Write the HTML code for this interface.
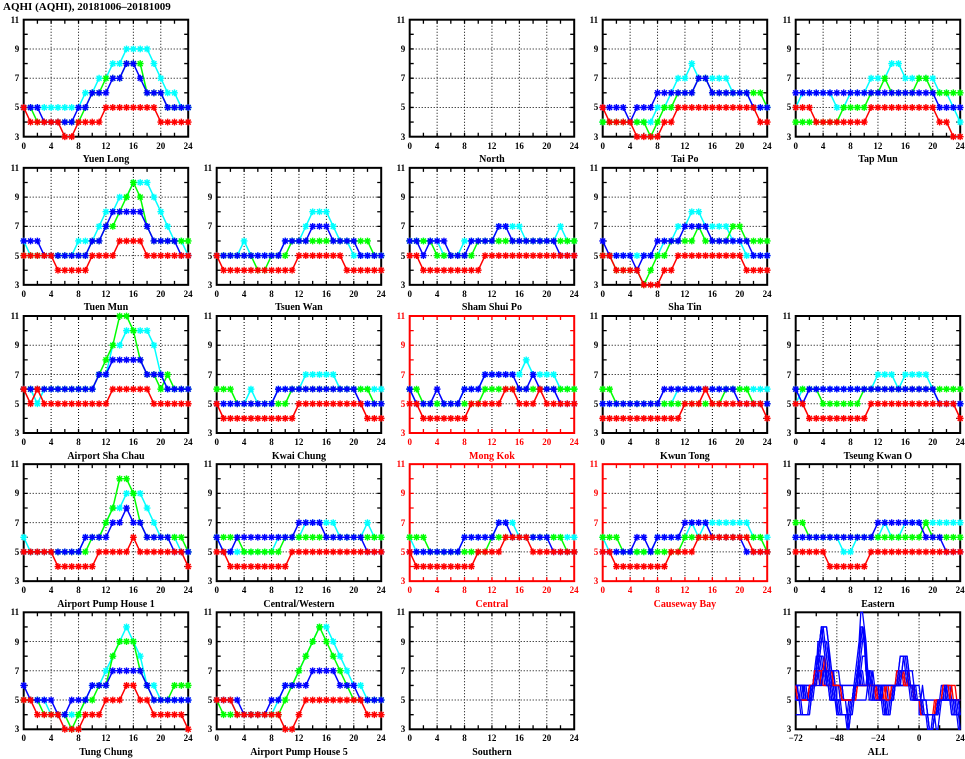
<!DOCTYPE html>
<html><head><meta charset="utf-8">
<style>
html,body{margin:0;padding:0;background:#fff}
body{width:965px;height:755px;position:relative;overflow:hidden;font-family:"Liberation Serif",serif}
#s{position:absolute;left:0;top:0}
.title{position:absolute;left:3px;top:0px;font:bold 11px/14px "Liberation Serif",serif;color:#000;white-space:nowrap}
.p{position:absolute;width:164.5px;height:117px}
.xl{position:absolute;left:-8px;right:-8px;top:121px;display:flex;justify-content:space-between;font:bold 9px/10px "Liberation Serif",serif}
.xl i{font-style:normal;width:16px;text-align:center;display:block}
.xa{left:-11px;right:-11px}
.xa i{width:22px}
.yl{position:absolute;left:-26px;width:21.5px;top:-6px;height:129px;display:flex;flex-direction:column;justify-content:space-between;font:bold 9px/12px "Liberation Serif",serif}
.yl i{font-style:normal;height:12px;text-align:right;display:block}
.nm{position:absolute;left:-30px;right:-30px;top:134.5px;text-align:center;font:bold 10px/12px "Liberation Serif",serif;white-space:nowrap}
.r{color:#f00}
</style></head><body>
<svg id="s" width="965" height="755" xmlns="http://www.w3.org/2000/svg"></svg>
<div class="title">AQHI (AQHI), 20181006–20181009</div>

<div class="p" style="left:23.7px;top:19.7px"><div class="xl"><i>0</i><i>4</i><i>8</i><i>12</i><i>16</i><i>20</i><i>24</i></div><div class="yl"><i>11</i><i>9</i><i>7</i><i>5</i><i>3</i></div><div class="nm">Yuen Long</div></div>
<div class="p" style="left:409.7px;top:19.7px"><div class="xl"><i>0</i><i>4</i><i>8</i><i>12</i><i>16</i><i>20</i><i>24</i></div><div class="yl"><i>11</i><i>9</i><i>7</i><i>5</i><i>3</i></div><div class="nm">North</div></div>
<div class="p" style="left:602.7px;top:19.7px"><div class="xl"><i>0</i><i>4</i><i>8</i><i>12</i><i>16</i><i>20</i><i>24</i></div><div class="yl"><i>11</i><i>9</i><i>7</i><i>5</i><i>3</i></div><div class="nm">Tai Po</div></div>
<div class="p" style="left:795.7px;top:19.7px"><div class="xl"><i>0</i><i>4</i><i>8</i><i>12</i><i>16</i><i>20</i><i>24</i></div><div class="yl"><i>11</i><i>9</i><i>7</i><i>5</i><i>3</i></div><div class="nm">Tap Mun</div></div>

<div class="p" style="left:23.7px;top:167.85px"><div class="xl"><i>0</i><i>4</i><i>8</i><i>12</i><i>16</i><i>20</i><i>24</i></div><div class="yl"><i>11</i><i>9</i><i>7</i><i>5</i><i>3</i></div><div class="nm">Tuen Mun</div></div>
<div class="p" style="left:216.7px;top:167.85px"><div class="xl"><i>0</i><i>4</i><i>8</i><i>12</i><i>16</i><i>20</i><i>24</i></div><div class="yl"><i>11</i><i>9</i><i>7</i><i>5</i><i>3</i></div><div class="nm">Tsuen Wan</div></div>
<div class="p" style="left:409.7px;top:167.85px"><div class="xl"><i>0</i><i>4</i><i>8</i><i>12</i><i>16</i><i>20</i><i>24</i></div><div class="yl"><i>11</i><i>9</i><i>7</i><i>5</i><i>3</i></div><div class="nm">Sham Shui Po</div></div>
<div class="p" style="left:602.7px;top:167.85px"><div class="xl"><i>0</i><i>4</i><i>8</i><i>12</i><i>16</i><i>20</i><i>24</i></div><div class="yl"><i>11</i><i>9</i><i>7</i><i>5</i><i>3</i></div><div class="nm">Sha Tin</div></div>

<div class="p" style="left:23.7px;top:316px"><div class="xl"><i>0</i><i>4</i><i>8</i><i>12</i><i>16</i><i>20</i><i>24</i></div><div class="yl"><i>11</i><i>9</i><i>7</i><i>5</i><i>3</i></div><div class="nm">Airport Sha Chau</div></div>
<div class="p" style="left:216.7px;top:316px"><div class="xl"><i>0</i><i>4</i><i>8</i><i>12</i><i>16</i><i>20</i><i>24</i></div><div class="yl"><i>11</i><i>9</i><i>7</i><i>5</i><i>3</i></div><div class="nm">Kwai Chung</div></div>
<div class="p r" style="left:409.7px;top:316px"><div class="xl"><i>0</i><i>4</i><i>8</i><i>12</i><i>16</i><i>20</i><i>24</i></div><div class="yl"><i>11</i><i>9</i><i>7</i><i>5</i><i>3</i></div><div class="nm">Mong Kok</div></div>
<div class="p" style="left:602.7px;top:316px"><div class="xl"><i>0</i><i>4</i><i>8</i><i>12</i><i>16</i><i>20</i><i>24</i></div><div class="yl"><i>11</i><i>9</i><i>7</i><i>5</i><i>3</i></div><div class="nm">Kwun Tong</div></div>
<div class="p" style="left:795.7px;top:316px"><div class="xl"><i>0</i><i>4</i><i>8</i><i>12</i><i>16</i><i>20</i><i>24</i></div><div class="yl"><i>11</i><i>9</i><i>7</i><i>5</i><i>3</i></div><div class="nm">Tseung Kwan O</div></div>

<div class="p" style="left:23.7px;top:464.15px"><div class="xl"><i>0</i><i>4</i><i>8</i><i>12</i><i>16</i><i>20</i><i>24</i></div><div class="yl"><i>11</i><i>9</i><i>7</i><i>5</i><i>3</i></div><div class="nm">Airport Pump House 1</div></div>
<div class="p" style="left:216.7px;top:464.15px"><div class="xl"><i>0</i><i>4</i><i>8</i><i>12</i><i>16</i><i>20</i><i>24</i></div><div class="yl"><i>11</i><i>9</i><i>7</i><i>5</i><i>3</i></div><div class="nm">Central/Western</div></div>
<div class="p r" style="left:409.7px;top:464.15px"><div class="xl"><i>0</i><i>4</i><i>8</i><i>12</i><i>16</i><i>20</i><i>24</i></div><div class="yl"><i>11</i><i>9</i><i>7</i><i>5</i><i>3</i></div><div class="nm">Central</div></div>
<div class="p r" style="left:602.7px;top:464.15px"><div class="xl"><i>0</i><i>4</i><i>8</i><i>12</i><i>16</i><i>20</i><i>24</i></div><div class="yl"><i>11</i><i>9</i><i>7</i><i>5</i><i>3</i></div><div class="nm">Causeway Bay</div></div>
<div class="p" style="left:795.7px;top:464.15px"><div class="xl"><i>0</i><i>4</i><i>8</i><i>12</i><i>16</i><i>20</i><i>24</i></div><div class="yl"><i>11</i><i>9</i><i>7</i><i>5</i><i>3</i></div><div class="nm">Eastern</div></div>

<div class="p" style="left:23.7px;top:612.3px"><div class="xl"><i>0</i><i>4</i><i>8</i><i>12</i><i>16</i><i>20</i><i>24</i></div><div class="yl"><i>11</i><i>9</i><i>7</i><i>5</i><i>3</i></div><div class="nm">Tung Chung</div></div>
<div class="p" style="left:216.7px;top:612.3px"><div class="xl"><i>0</i><i>4</i><i>8</i><i>12</i><i>16</i><i>20</i><i>24</i></div><div class="yl"><i>11</i><i>9</i><i>7</i><i>5</i><i>3</i></div><div class="nm">Airport Pump House 5</div></div>
<div class="p" style="left:409.7px;top:612.3px"><div class="xl"><i>0</i><i>4</i><i>8</i><i>12</i><i>16</i><i>20</i><i>24</i></div><div class="yl"><i>11</i><i>9</i><i>7</i><i>5</i><i>3</i></div><div class="nm">Southern</div></div>
<div class="p" style="left:795.7px;top:612.3px"><div class="xl xa"><i>−72</i><i>−48</i><i>−24</i><i>0</i><i>24</i></div><div class="yl"><i>11</i><i>9</i><i>7</i><i>5</i><i>3</i></div><div class="nm">ALL</div></div>

<script>
(function(){
var W=164.5,H=117;
function X(c){return 23.7+193*c}
function Y(r){return 19.7+148.15*r}
var COL=["#00ffff","#00ff00","#0000ff","#ff0000"];
var P=[
 {r:0,c:0,d:["5555555556677889999876655","5544444445667778886665555","5554444455666778876665555","5444443344445555555544444"]},
 {r:0,c:2,d:null},
 {r:0,c:3,d:["4444444455677877777666555","4444444345566677666666665","5555455566666677666666555","5444433334455555555555544"]},
 {r:0,c:4,d:["5666665566677788777776654","4444444555566766667766666","6666666666666666666665555","5554444444455555555554433"]},
 {r:1,c:0,d:["6555555566678899aaa987665","5555555555667789a97666666","6665555555667888887666655","5555544444555566665555555"]},
 {r:1,c:1,d:["5555655555666788876655555","5555554455566666666666655","5555555555666677766665555","5444444444445555555444444"]},
 {r:1,c:2,d:["6666655566666777766666766","6666555555666666666666666","6656665556666776666666555","5544444444455555555555555"]},
 {r:1,c:3,d:["5555555556677887777665555","5544443455666676666776666","6555545566667777666666555","5544443334455555555554444"]},
 {r:2,c:0,d:["665666666667799aaaa976666","66666666666789bba87767666","6666666666677888887776666","6565555555555666666555555"]},
 {r:2,c:1,d:["5555565556666777776666666","6665555555566666666666655","5555555556666666666665555","5444444444445555555555444"]},
 {r:2,c:2,red:1,d:["6555555566677777787777666","6655555555566666666666666","6555655566677777667666555","5544444445555566555655555"]},
 {r:2,c:3,d:["5555555555566666666666666","6655555555555555556666555","5555555556666666666655555","4444444444445556555555554"]},
 {r:2,c:4,d:["5666666666667776777765555","6666555555666666666666666","6566666666666666666665555","5544444444455555555555554"]},
 {r:3,c:0,d:["6555555556667889998766655","55555555556678aa976666665","5555555556666778776666555","5555544444455555655555554"]},
 {r:3,c:1,d:["6555555556666777776666766","6666555555666666666666666","6556666666667777666666555","5544444444455555555555555"]},
 {r:3,c:2,red:1,d:["6555555566666777666666666","6665555555556666666666655","5555555566666776666665555","5444444444555566665555555"]},
 {r:3,c:3,red:1,d:["6555555566666767777777666","6665555555556666666666665","5555566566667777666665555","5544444444555566666666555"]},
 {r:3,c:4,d:["6666666556666766777777777","7766666666666666666766666","6666666666667777777666555","5555544444455555555555555"]},
 {r:4,c:0,d:["555544444566789a986655555","5554444345566899976555666","6555544555666777776555555","5544443334445556655444443"]},
 {r:4,c:1,d:["555444444566789aa98766555","544444444456789a987655555","5555444455666677776665555","5554444444334555555555444"]},
 {r:4,c:2,d:null}
];
var g='';
function f(n){return n.toFixed(2)}
function frame(x0,y0,col,nx,gx){
  var i,x,y,p='';
  for(i=0;i<gx.length;i++){x=x0+gx[i]*W;g+='<line x1="'+f(x)+'" y1="'+f(y0)+'" x2="'+f(x)+'" y2="'+f(y0+H)+'" stroke="#000" stroke-width="1" stroke-dasharray="1 2"/>';}
  [5,7,9].forEach(function(u){y=y0+H-(u-3)*H/8;g+='<line x1="'+f(x0)+'" y1="'+f(y)+'" x2="'+f(x0+W)+'" y2="'+f(y)+'" stroke="#000" stroke-width="1" stroke-dasharray="1 2"/>';});
  for(i=1;i<nx;i++){x=x0+i*W/nx;p+='M'+f(x)+' '+f(y0+H)+'v-4M'+f(x)+' '+f(y0)+'v4';}
  for(i=1;i<8;i++){y=y0+i*H/8;p+='M'+f(x0)+' '+f(y)+'h4M'+f(x0+W)+' '+f(y)+'h-4';}
  g+='<path d="'+p+'" stroke="'+col+'" stroke-width="1.3" fill="none"/>';
  g+='<rect x="'+f(x0)+'" y="'+f(y0)+'" width="'+W+'" height="'+H+'" fill="none" stroke="'+col+'" stroke-width="2"/>';
}
function ser(x0,y0,s,col){
  var pts=[],st='',i,x,y,v,a=3.4,b=2.5;
  for(i=0;i<25;i++){
    v=parseInt(s.charAt(i)||s.charAt(s.length-1),16);
    x=x0+i*W/24;y=y0+H-(v-3)*H/8;
    pts.push(f(x)+','+f(y));
    st+='M'+f(x-a)+' '+f(y)+'h'+(2*a)+'M'+f(x)+' '+f(y-a)+'v'+(2*a)+'M'+f(x-b)+' '+f(y-b)+'l'+(2*b)+' '+(2*b)+'M'+f(x-b)+' '+f(y+b)+'l'+(2*b)+' '+(-2*b);
  }
  g+='<polyline points="'+pts.join(' ')+'" fill="none" stroke="'+col+'" stroke-width="1.5" stroke-linejoin="round"/>';
  g+='<path d="'+st+'" stroke="'+col+'" stroke-width="1.4" fill="none"/>';
}
P.forEach(function(p){
  var x0=X(p.c),y0=Y(p.r);
  frame(x0,y0,p.red?"#ff0000":"#000",12,[1/6,2/6,3/6,4/6,5/6]);
  if(p.d){for(var k=0;k<4;k++)ser(x0,y0,p.d[k],COL[k]);}
});
var ax=X(4),ay=Y(4);
frame(ax,ay,"#000",8,[0.25,0.5,0.75]);
P.forEach(function(p){
  if(!p.d)return;
  var pts=[],d,i,v,t;
  for(d=0;d<4;d++){
    for(i=0;i<25;i++){
      v=parseInt(p.d[d].charAt(i),16);t=d*24+i;
      pts.push(f(ax+t*W/96)+','+f(ay+H-(v-3)*H/8));
    }
  }
  g+='<polyline points="'+pts.join(' ')+'" fill="none" stroke="'+(p.red?"#ff0000":"#0000ff")+'" stroke-width="1.3" stroke-linejoin="round"/>';
});
document.getElementById('s').innerHTML=g;
})();
</script>
</body></html>
